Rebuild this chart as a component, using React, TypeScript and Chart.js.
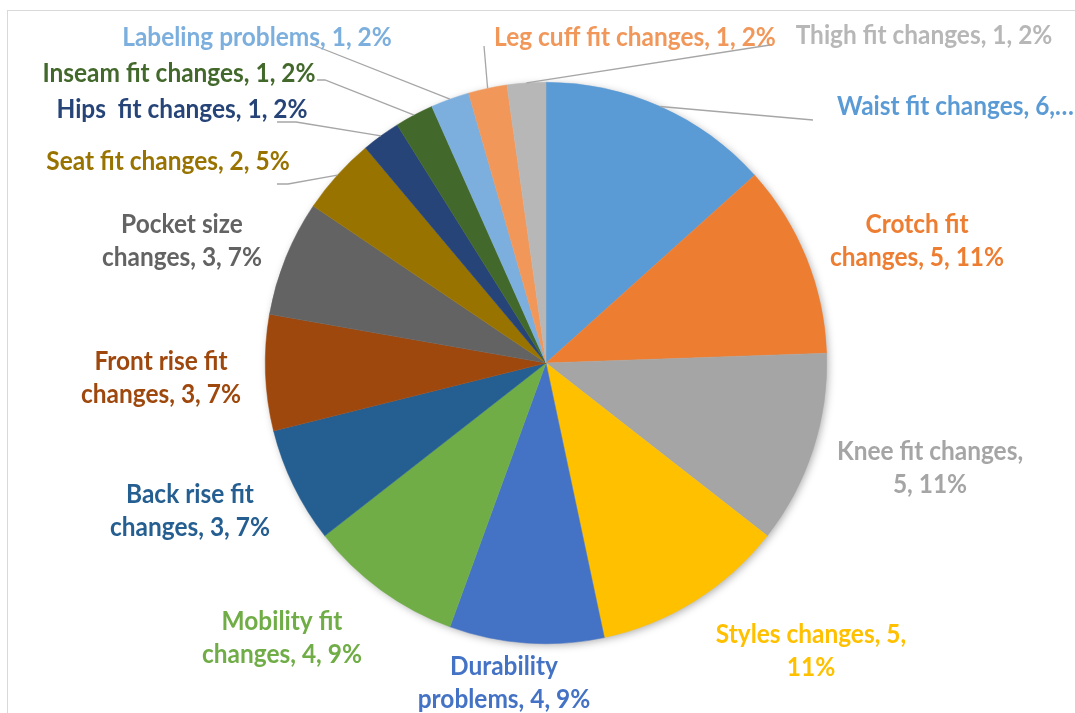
import React, { useEffect, useRef } from "react";
import { Chart, registerables } from "chart.js";

Chart.register(...registerables);

// ---------- data ----------
const categories = [
  "Waist fit changes",
  "Crotch fit changes",
  "Knee fit changes",
  "Styles changes",
  "Durability problems",
  "Mobility fit changes",
  "Back rise fit changes",
  "Front rise fit changes",
  "Pocket size changes",
  "Seat fit changes",
  "Hips  fit changes",
  "Inseam fit changes",
  "Labeling problems",
  "Leg cuff fit changes",
  "Thigh fit changes",
];
const counts = [6, 5, 5, 5, 4, 4, 3, 3, 3, 2, 1, 1, 1, 1, 1];
const percentLabels = ["13%", "11%", "11%", "11%", "9%", "9%", "7%", "7%", "7%", "5%", "2%", "2%", "2%", "2%", "2%"];

// ---------- styles ----------
const sliceColors = [
  "#5B9BD5", "#ED7D31", "#A5A5A5", "#FFC000", "#4472C4", "#70AD47", "#255E91",
  "#9E480E", "#636363", "#997300", "#264478", "#43682B", "#7CAFDD", "#F1975A", "#B7B7B7",
];

// label layout: offset of text anchor from pie centre, words on first line (0 = single line),
// alignment, truncated?, leader polyline end points (offsets from pie centre)
type LabelLayout = {
  dx: number; dy: number; split: number; align?: CanvasTextAlign; truncate?: boolean;
  leader?: [number, number][];
};
const labelLayout: LabelLayout[] = [
  { dx: 291, dy: -256, split: 0, align: "left", truncate: true, leader: [[267, -243]] },
  { dx: 371, dy: -122, split: 2 },
  { dx: 384, dy: 105, split: 3 },
  { dx: 265, dy: 288, split: 3 },
  { dx: -42, dy: 320, split: 1 },
  { dx: -264, dy: 275, split: 2 },
  { dx: -356, dy: 148, split: 3 },
  { dx: -385, dy: 15, split: 3 },
  { dx: -364, dy: -122, split: 2 },
  { dx: -378, dy: -201, split: 0, leader: [[-258, -179], [-269, -179]] },
  { dx: -364, dy: -253, split: 0, leader: [[-250, -241], [-269, -241]] },
  { dx: -367, dy: -289, split: 0, leader: [[-221, -283], [-229, -283]] },
  { dx: -289, dy: -325, split: 0, leader: [[-233, -318]] },
  { dx: 89, dy: -325, split: 0, leader: [[-62, -317]] },
  { dx: 378, dy: -327, split: 0, leader: [[224, -318]] },
];

const FONT = "700 26px Lato";
const SCALE_X = 0.94;
const LINE_H = 33;

function labelLines(i: number): string[] {
  const lay = labelLayout[i];
  if (lay.truncate) return [`${categories[i]}, ${counts[i]},\u2026`];
  const full = `${categories[i]}, ${counts[i]}, ${percentLabels[i]}`;
  if (!lay.split) return [full];
  const words = full.split(" ");
  return [words.slice(0, lay.split).join(" "), words.slice(lay.split).join(" ")];
}

const framePlugin = {
  id: "frame",
  beforeDraw(chart: any) {
    const ctx = chart.ctx as CanvasRenderingContext2D;
    ctx.save();
    ctx.fillStyle = "#ffffff";
    ctx.fillRect(0, 0, chart.width, chart.height);
    ctx.strokeStyle = "#D9D9D9";
    ctx.lineWidth = 1;
    ctx.strokeRect(7.5, 10.5, chart.width + 20, chart.height + 20);
    ctx.restore();
  },
  beforeDatasetsDraw(chart: any) {
    const arc = chart.getDatasetMeta(0).data[0] as any;
    if (!arc) return;
    const ctx = chart.ctx as CanvasRenderingContext2D;
    ctx.save();
    ctx.shadowColor = "rgba(0,0,0,0.35)";
    ctx.shadowBlur = 9;
    ctx.shadowOffsetX = 2;
    ctx.shadowOffsetY = 2;
    ctx.fillStyle = "#ffffff";
    ctx.beginPath();
    ctx.arc(arc.x, arc.y, arc.outerRadius - 1, 0, Math.PI * 2);
    ctx.fill();
    ctx.restore();
  },
};

const labelPlugin = {
  id: "pieLabels",
  afterDatasetsDraw(chart: any) {
    const ctx = chart.ctx as CanvasRenderingContext2D;
    const meta = chart.getDatasetMeta(0);
    meta.data.forEach((el: any, i: number) => {
      const lay = labelLayout[i];
      const cx = el.x, cy = el.y;
      const mid = (el.startAngle + el.endAngle) / 2;
      if (lay.leader) {
        ctx.save();
        ctx.strokeStyle = "#A6A6A6";
        ctx.lineWidth = 1.3;
        ctx.beginPath();
        ctx.moveTo(cx + Math.cos(mid) * el.outerRadius, cy + Math.sin(mid) * el.outerRadius);
        lay.leader.forEach(([lx, ly]) => ctx.lineTo(cx + lx, cy + ly));
        ctx.stroke();
        ctx.restore();
      }
      const lines = labelLines(i);
      const tx = cx + lay.dx;
      const ty0 = cy + lay.dy - ((lines.length - 1) * LINE_H) / 2;
      ctx.save();
      ctx.font = FONT;
      ctx.fillStyle = sliceColors[i];
      ctx.textAlign = lay.align || "center";
      ctx.textBaseline = "middle";
      lines.forEach((ln, k) => {
        ctx.save();
        ctx.translate(tx, ty0 + k * LINE_H);
        ctx.scale(SCALE_X, 1);
        ctx.fillText(ln, 0, 0);
        ctx.restore();
      });
      ctx.restore();
    });
  },
};

export default function App() {
  const ref = useRef<HTMLCanvasElement | null>(null);
  useEffect(() => {
    if (!ref.current) return;
    const chart = new Chart(ref.current, {
      type: "pie",
      data: {
        labels: categories,
        datasets: [
          {
            data: counts,
            backgroundColor: sliceColors,
            borderColor: sliceColors,
            borderWidth: 0.5,
          },
        ],
      },
      options: {
        responsive: false,
        animation: false,
        devicePixelRatio: 1,
        layout: { padding: { left: 265, right: 248, top: 82, bottom: 69 } },
        plugins: {
          legend: { display: false },
          tooltip: { enabled: false },
        },
      },
      plugins: [framePlugin, labelPlugin],
    });
    return () => chart.destroy();
  }, []);
  return (
    <div style={{ position: "fixed", left: 0, top: 0, width: 1075, height: 713, background: "#fff" }}>
      <canvas ref={ref} width={1075} height={713} style={{ width: 1075, height: 713, display: "block" }} />
    </div>
  );
}
